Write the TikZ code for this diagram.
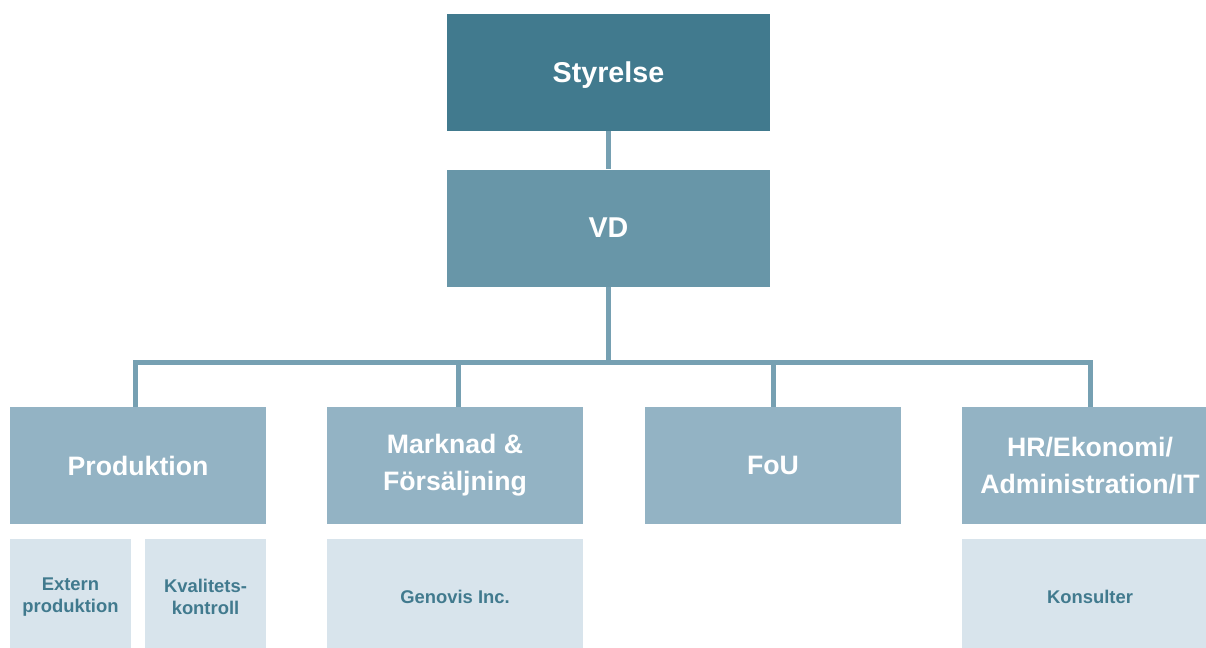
\documentclass[tikz,border=0pt]{standalone}
\usepackage{fontspec}
\setmainfont{Liberation Sans}
\definecolor{cTop}{HTML}{417A8E}
\definecolor{cVD}{HTML}{6896A8}
\definecolor{cMid}{HTML}{93B3C4}
\definecolor{cLow}{HTML}{D8E4EC}
\definecolor{cLine}{HTML}{76A0B2}
\begin{document}
\begin{tikzpicture}[x=0.75pt,y=-0.75pt,
  box/.style={rectangle,inner sep=0pt,align=center,font=\bfseries},
  topbox/.style={box,fill=cTop,text=white,minimum width=242.25pt,minimum height=87.75pt,text depth=0pt,font=\bfseries\fontsize{21.5}{25}\selectfont},
  vdbox/.style={topbox,fill=cVD},
  midbox/.style={box,fill=cMid,text=white,minimum width=192pt,minimum height=87.75pt,font=\bfseries\fontsize{20}{27.75}\selectfont},
  lowbox/.style={box,fill=cLow,text=cTop,minimum height=87pt,font=\bfseries\fontsize{13.8}{16}\selectfont},
  conn/.style={draw=cLine,line width=3.75pt}]
\useasboundingbox (0,0) rectangle (1206,647);
\node[topbox] (sty) at (608.5,72.5) {Styrelse};
\node[vdbox] (vd) at (608.5,228) {VD};
\node[midbox] (prod) at (138,465.5) {Produktion};
\node[midbox] (mark) at (455,465.5) {Marknad \&\\Försäljning};
\node[midbox] (fou) at (773,465.5) {FoU};
\node[midbox] (hr) at (1090,465.5) {HR/Ekonomi/\\Administration/IT};
\node[lowbox,minimum width=90.75pt] (ext) at (70.5,597) {Extern\\produktion};
\node[lowbox,minimum width=90.75pt] (kval) at (205.5,597) {Kvalitets-\\kontroll};
\node[lowbox,minimum width=192pt] (gen) at (455,597) {Genovis Inc.};
\node[lowbox,minimum width=192pt] (kons) at (1090,597) {Konsulter};
\coordinate (bar) at (608.5,362);
\draw[conn] (sty.south) -- (vd.north);
\draw[conn] (vd.south) -- (bar);
\draw[conn] ([xshift=-2.25pt]prod.north) |- (bar) -| (hr.north);
\draw[conn] ([xshift=2.25pt]mark.north) -- ([xshift=2.25pt]mark.north |- bar);
\draw[conn] (fou.north) -- (fou.north |- bar);
\end{tikzpicture}
\end{document}
